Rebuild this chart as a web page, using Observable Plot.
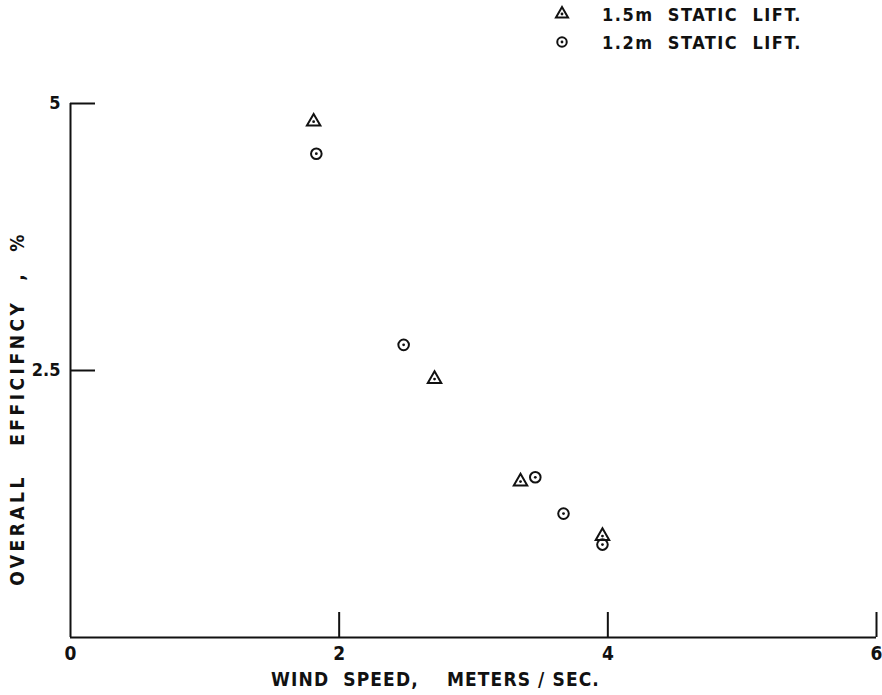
<!DOCTYPE html>
<html>
<head>
<meta charset="utf-8">
<script src="https://cdn.jsdelivr.net/npm/d3@7"></script>
<script src="https://cdn.jsdelivr.net/npm/@observablehq/plot@0.6"></script>
<style>
  html, body { margin: 0; padding: 0; background: #fff; }
  #wrap { position: relative; width: 882px; height: 695px; }
  #wrap svg text { white-space: pre; }
  .legend { position: absolute; left: 550px; top: 0; font-family: "DejaVu Sans Condensed", "DejaVu Sans", sans-serif; font-size: 18px; font-weight: 600; letter-spacing: 1.5px; color: #111; }
  .legend .row { position: absolute; left: 0; height: 28px; display: flex; align-items: center; white-space: pre; }
  .legend svg { width: 24px; height: 24px; margin-right: 28px; }
</style>
</head>
<body>
<div id="wrap"></div>
<script>
const xTicks = [0, 2, 4, 6];
const yTicks = [2.5, 5];
const xLabel = "WIND  SPEED,    METERS / SEC.";
const yLabel = "OVERALL   EFFICIFNCY  ,  %";
const seriesNames = ["1.5m  STATIC  LIFT.", "1.2m  STATIC  LIFT."];
const lift15Speed = [1.81, 2.71, 3.35, 3.96];
const lift15Eff = [4.83, 2.42, 1.46, 0.95];
const lift12Speed = [1.83, 2.48, 3.46, 3.67, 3.96];
const lift12Eff = [4.53, 2.74, 1.50, 1.16, 0.87];

const lift15 = lift15Speed.map((s, i) => ({speed: s, eff: lift15Eff[i]}));
const lift12 = lift12Speed.map((s, i) => ({speed: s, eff: lift12Eff[i]}));

const ink = "#111";
const font = '"DejaVu Sans Condensed", "DejaVu Sans", sans-serif';

const chart = Plot.plot({
  width: 882,
  height: 695,
  marginLeft: 70,
  marginRight: 6,
  marginTop: 103,
  marginBottom: 58,
  x: {domain: [0, 6]},
  y: {domain: [0, 5]},
  style: {fontFamily: font, fontSize: "19px", fontWeight: 600, color: ink, background: "#fff", overflow: "visible"},
  marks: [
    Plot.ruleX([0], {y1: 0, y2: 5, stroke: ink, strokeWidth: 2}),
    Plot.ruleY([0], {x1: 0, x2: 6, stroke: ink, strokeWidth: 2}),
    Plot.tickX(xTicks.slice(1), {stroke: ink, strokeWidth: 2, insetTop: 509}),
    Plot.tickY(yTicks, {stroke: ink, strokeWidth: 2, insetRight: 781}),
    Plot.axisX({ticks: xTicks, tickSize: 0, tickPadding: 9, tickFormat: d => String(d), label: null, fontSize: 19}),
    Plot.axisY({ticks: yTicks, tickSize: 0, tickPadding: 10, tickFormat: d => String(d), label: null, fontSize: 18}),
    Plot.text([xLabel], {frameAnchor: "bottom", textAnchor: "middle", dx: -38, dy: 48, fontSize: 19, fill: ink}),
    Plot.text([yLabel], {frameAnchor: "left", textAnchor: "middle", rotate: -90, dx: -53, dy: 38, fontSize: 19, fill: ink}),
    Plot.dot(lift15, {x: "speed", y: "eff", symbol: "triangle", r: 5, stroke: ink, strokeWidth: 2, fill: "none"}),
    Plot.dot(lift15, {x: "speed", y: "eff", r: 1.4, fill: ink}),
    Plot.dot(lift12, {x: "speed", y: "eff", symbol: "circle", r: 5.3, stroke: ink, strokeWidth: 2, fill: "none"}),
    Plot.dot(lift12, {x: "speed", y: "eff", r: 1.4, fill: ink})
  ]
});
chart.querySelectorAll("text").forEach(t => {
  if (t.textContent === yLabel) t.setAttribute("letter-spacing", "3.5");
  if (t.textContent === xLabel) t.setAttribute("letter-spacing", "1.1");
});

const wrap = document.getElementById("wrap");
wrap.appendChild(chart);

// legend
const legend = document.createElement("div");
legend.className = "legend";
const syms = [d3.symbolTriangle, d3.symbolCircle];
const sizes = [Math.PI * 5 * 5, Math.PI * 5.3 * 5.3];
seriesNames.forEach((name, i) => {
  const row = document.createElement("div");
  row.className = "row";
  row.style.top = (i === 0 ? 0 : 28) + "px";
  const svg = d3.create("svg").attr("viewBox", "-12 -12 24 24");
  svg.append("path").attr("d", d3.symbol(syms[i], sizes[i] * 0.8)()).attr("fill", "none").attr("stroke", ink).attr("stroke-width", 2);
  svg.append("circle").attr("r", 1.4).attr("fill", ink);
  row.appendChild(svg.node());
  const span = document.createElement("span");
  span.textContent = name;
  row.appendChild(span);
  legend.appendChild(row);
});
wrap.appendChild(legend);
</script>
</body>
</html>
